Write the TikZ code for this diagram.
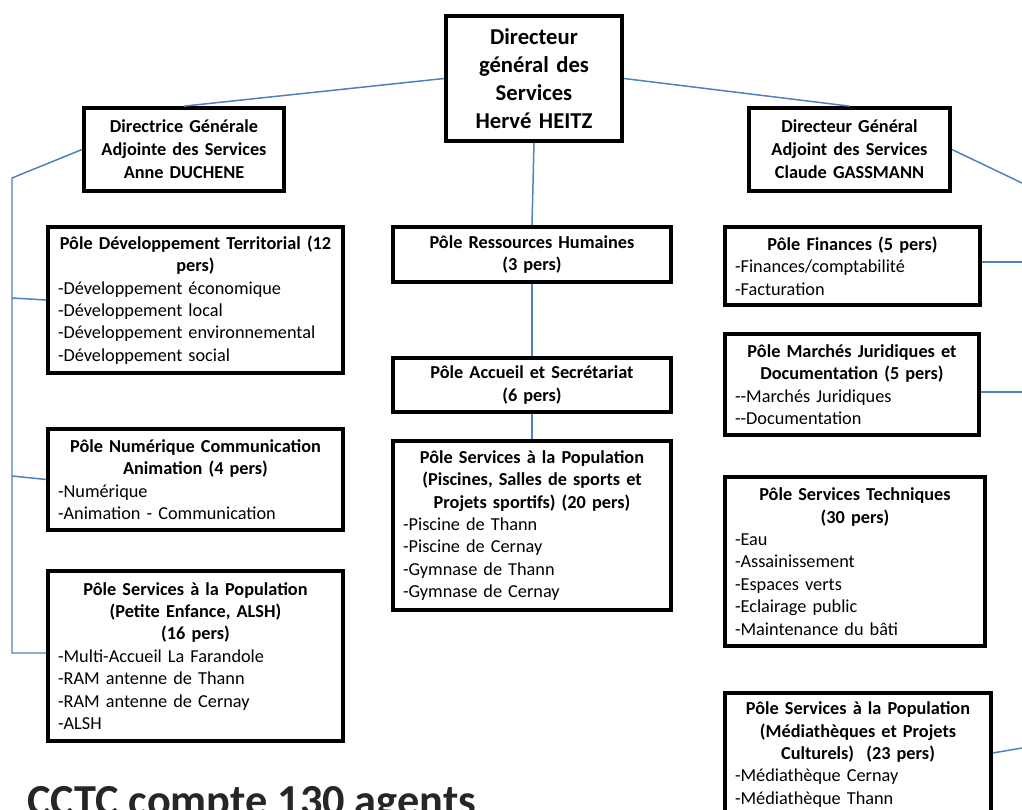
\documentclass[tikz,border=0pt]{standalone}
\usepackage{fontspec}
\setmainfont{Carlito}
\definecolor{lienbleu}{RGB}{79,129,189}
\newcommand{\titre}[1]{{\centering\bfseries #1\par}}

\begin{document}
\begin{tikzpicture}[x=0.02cm, y=-0.02cm, every node/.style={font=\fontsize{10.4}{12.75}\selectfont}, pole/.style={draw, line width=2.4pt, align=left, inner xsep=5.6pt, inner ysep=2pt}, chef/.style={pole, align=center, font=\bfseries\fontsize{10.4}{13}\selectfont}, lien/.style={lienbleu, line width=0.85pt}]
	\useasboundingbox (0,0) rectangle (1022,810);
	\node[chef, text width=3.12cm, minimum height=2.49cm, font=\bfseries\fontsize{12.9}{15.9}\selectfont] (dgs) at (534,78.5) {Directeur\\général des\\Services\\Hervé HEITZ};
	\node[chef, text width=3.6cm, minimum height=1.65cm] (dgaG) at (184,149.5) {Directrice Générale\\Adjointe des Services\\Anne DUCHENE};
	\node[chef, text width=3.62cm, minimum height=1.65cm] (dgaD) at (849.5,149.5) {Directeur Général\\Adjoint des Services\\Claude GASSMANN};
	\node[pole, text width=5.5cm, minimum height=2.91cm] (dev) at (195.5,300) {\titre{Pôle Développement Territorial (12\\pers)}-Développement économique\\-Développement local\\-Développement environnemental\\-Développement social};
	\node[pole, text width=5.5cm, minimum height=2.01cm] (num) at (195.5,479.5) {\titre{Pôle Numérique Communication\\Animation (4 pers)}-Numérique\\-Animation - Communication};
	\node[pole, text width=5.5cm, minimum height=3.39cm] (pe) at (195.5,656) {\titre{Pôle Services à la Population\\(Petite Enfance, ALSH)\\(16 pers)}-Multi-Accueil La Farandole\\-RAM antenne de Thann\\-RAM antenne de Cernay\\-ALSH};
	\node[pole, text width=5.16cm, minimum height=1.09cm] (rh) at (532,254.5) {\titre{Pôle Ressources Humaines\\(3 pers)}};
	\node[pole, text width=5.16cm, minimum height=1.07cm] (acc) at (532,385) {\titre{Pôle Accueil et Secrétariat\\(6 pers)}};
	\node[pole, text width=5.16cm, minimum height=3.37cm] (sport) at (532,525.5) {\titre{Pôle Services à la Population\\(Piscines, Salles de sports et\\Projets sportifs) (20 pers)}-Piscine de Thann\\-Piscine de Cernay\\-Gymnase de Thann\\-Gymnase de Cernay};
	\node[pole, text width=4.7cm, minimum height=1.55cm] (fin) at (852.5,266) {\titre{Pôle Finances (5 pers)}-Finances/comptabilité\\-Facturation};
	\node[pole, text width=4.68cm, minimum height=2.01cm] (mar) at (852,384.5) {\titre{Pôle Marchés Juridiques et\\Documentation (5 pers)}-{}-Marchés Juridiques\\-{}-Documentation};
	\node[pole, text width=4.8cm, minimum height=3.37cm] (tech) at (855,561.5) {\titre{Pôle Services Techniques\\(30 pers)}-Eau\\-Assainissement\\-Espaces verts\\-Eclairage public\\-Maintenance du bâti};
	\node[pole, text width=4.92cm, anchor=north, inner ysep=5pt] (med) at (858,691) {\titre{Pôle Services à la Population\\(Médiathèques et Projets\\Culturels)~~(23 pers)}-Médiathèque Cernay\\-Médiathèque Thann\par\vspace*{2cm}};
	\node[font=\bfseries\fontsize{25.2}{30}\selectfont, anchor=base west, inner sep=0pt, text=black!85] (bilan) at (27,816) {CCTC compte 130 agents};
	\coordinate (G0) at (12,178);
	\coordinate (G1) at (12,298);
	\coordinate (G2) at (12,476);
	\coordinate (G3) at (12,653);
	\coordinate (D0) at (1022,183);
	\coordinate (D1) at (1022,262);
	\coordinate (D2) at (1022,392);
	\coordinate (D3) at (1022,748);
	\coordinate (M0) at (0,753);
	\draw[lien] (dgs.west) -- (dgaG.north);
	\draw[lien] (dgs.east) -- (dgaD.north);
	\draw[lien] (dgs.south) -- (rh.north);
	\draw[lien] (rh.south) -- (acc.north);
	\draw[lien] (acc.south) -- (sport.north);
	\draw[lien] (dgaG.west) -- (G0) -- (G3) -- (G3 -| pe.west);
	\draw[lien] (G1) -- (dev.west);
	\draw[lien] (G2) -- (num.west);
	\draw[lien] (dgaD.east) -- (D0);
	\draw[lien] (fin.east |- D1) -- (D1);
	\draw[lien] (mar.east |- D2) -- (D2);
	\draw[lien] (med.east |- M0) -- (D3);
\end{tikzpicture}
\end{document}
